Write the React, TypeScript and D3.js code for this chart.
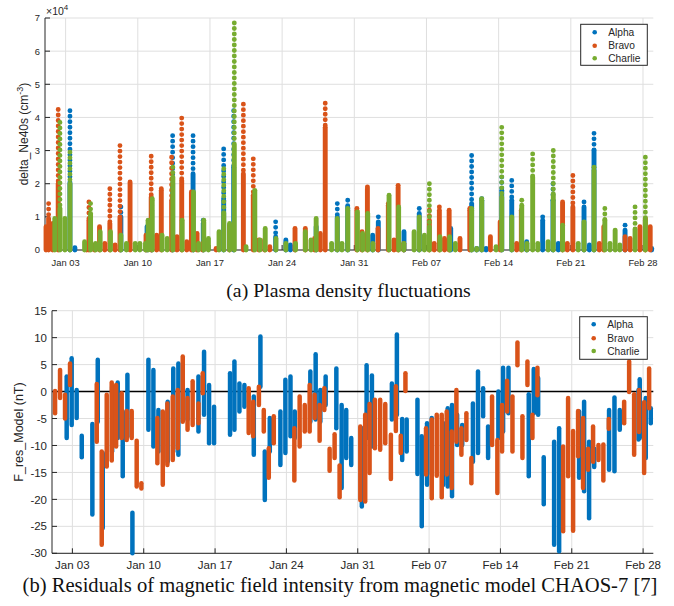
import React from "react";
import * as d3 from "d3";

// time axis: days counted from Jan 01 (UTC)
const t0 = Date.UTC(2021, 0, 1);
const t1 = Date.UTC(2021, 2, 1);
const toDate = (d: number) => new Date(t0 + d * 864e5);

const seriesNames = ["Alpha", "Bravo", "Charlie"];
const seriesColors = ["#0072BD", "#D95319", "#77AC30"];

// (a) delta_Ne40s columns: [day, top of dense part, highest sparse point] (cm^-3)
const alphaNe = [
  [2.42, 20000, 42000], [2.9, 700, 700], [7.36, 10000, 13000], [9.9, 7000, 7000],
  [10.35, 12000, 15000], [12.38, 20000, 34500], [14.36, 23000, 34500], [15.35, 8000, 9000],
  [17.33, 15000, 30500], [18.3, 25000, 42000], [22.37, 4000, 8500], [23.36, 3000, 3000],
  [23.8, 1500, 1500], [26.3, 7000, 7000], [28.35, 10000, 14000], [29.36, 13000, 15000],
  [31.78, 4500, 4500], [32.33, 8500, 10000], [34.82, 5500, 5500], [36.3, 11000, 12500],
  [39.35, 6500, 6500], [41.38, 14000, 28500], [41.87, 500, 500], [42.36, 15000, 15500],
  [42.78, 500, 500], [44.3, 18000, 22000], [45.27, 15000, 21000], [46.72, 2500, 2500],
  [48.27, 9000, 10000], [49.27, 15000, 20000], [49.79, 2000, 2000], [52.28, 13000, 14500],
  [52.8, 1500, 1500], [53.25, 30000, 35200], [56.26, 6000, 7500], [58.84, 500, 500],
];
const bravoNe = [
  [0.1, 7000, 7000], [0.35, 9500, 14000], [0.75, 8000, 8000], [1.28, 20000, 42400],
  [4.04, 1000, 1000], [4.26, 9000, 14500], [4.8, 1500, 1500], [5.29, 7000, 7000],
  [5.8, 2000, 2000], [6.29, 8000, 18500], [6.8, 1500, 1500], [7.27, 10000, 31500],
  [8.25, 20500, 20500], [9.8, 4500, 4500], [10.3, 16000, 28300], [10.83, 4500, 4500],
  [11.28, 18000, 18500], [12.28, 15000, 28000], [12.8, 4000, 4000], [13.26, 21000, 39800],
  [13.75, 2500, 2500], [14.2, 17500, 17500], [14.75, 5000, 5000], [15.3, 2000, 2000],
  [16.6, 500, 500], [17.9, 7500, 7500], [19.24, 23000, 44000], [20.2, 16500, 27500],
  [20.75, 3000, 3000], [21.3, 3000, 3000], [21.8, 1000, 1000], [24.25, 6500, 6500],
  [25.25, 6500, 6500], [26.15, 3500, 3500], [26.7, 5000, 5000], [27.18, 37000, 44300],
  [30.25, 12000, 12500], [30.75, 5500, 5500], [31.27, 18500, 19000], [32.3, 6500, 6500],
  [33.3, 13500, 14000], [33.85, 3000, 3000], [34.25, 19000, 19500], [34.8, 2000, 2000],
  [37.28, 9000, 12000], [37.75, 2000, 2000], [38.25, 12000, 13000], [38.75, 3500, 3500],
  [39.2, 12000, 12000], [40.25, 3500, 3500], [41.2, 12000, 12500], [43.2, 4000, 4000],
  [44.15, 8500, 8500], [45.75, 2000, 2000], [46.2, 12000, 12000], [50.2, 14500, 14500],
  [50.66, 2000, 2000], [51.2, 13000, 22500], [53.76, 2000, 2000], [54.2, 7000, 7000],
  [56.26, 4000, 4000], [56.75, 3500, 3500], [57.7, 7000, 7000], [58.23, 9500, 9500],
  [58.7, 7000, 7000],
];
const charlieNe = [
  [0.95, 9500, 9500], [1.45, 12500, 38500], [1.93, 9500, 9500], [2.42, 20000, 29500],
  [3.84, 2500, 2500], [4.42, 11000, 14000], [4.9, 2000, 2000], [5.35, 5500, 5500],
  [6.35, 5500, 5500], [7.36, 4500, 4500], [7.9, 2000, 2000], [8.75, 2000, 2000],
  [9.2, 2000, 2000], [9.75, 2000, 2000], [10.0, 9000, 9000], [10.4, 15000, 15500],
  [11.35, 4500, 4500], [11.85, 3500, 3500], [12.4, 22000, 25000], [13.3, 9000, 9000],
  [14.4, 17500, 17500], [14.9, 2000, 2000], [15.4, 8500, 9000], [15.85, 3500, 3500],
  [16.88, 5500, 5500], [17.34, 11000, 24500], [17.9, 8000, 8000], [18.36, 32000, 68500],
  [19.5, 1000, 1000], [20.35, 18000, 18000], [20.85, 3000, 3000], [21.36, 6500, 6500],
  [22.4, 3500, 3500], [23.36, 2000, 2000], [24.3, 2000, 2000], [25.25, 5500, 5500],
  [25.8, 3000, 3000], [26.3, 9500, 9500], [27.8, 2000, 2000], [28.35, 9500, 9500],
  [28.8, 2000, 2000], [29.36, 12000, 12500], [30.3, 11500, 11500], [30.8, 5000, 5000],
  [31.3, 11000, 11000], [31.8, 2000, 2000], [33.37, 16500, 16500], [34.3, 13000, 13000],
  [34.8, 2000, 2000], [35.8, 5500, 5500], [36.3, 10000, 10000], [36.8, 4500, 4500],
  [37.28, 7000, 20000], [38.3, 4000, 4000], [39.25, 4000, 4000], [39.8, 2000, 2000],
  [41.38, 12000, 12500], [41.87, 500, 500], [42.36, 15000, 15500], [43.75, 1000, 1000],
  [44.3, 16000, 37000], [45.27, 10000, 10000], [46.24, 13500, 15000], [46.75, 2000, 2000],
  [47.3, 22000, 29000], [47.8, 2000, 2000], [48.8, 2500, 2500], [49.3, 17000, 30000],
  [50.2, 7500, 7500], [51.72, 2000, 2000], [52.28, 8500, 8500], [53.25, 24000, 25000],
  [54.3, 9000, 12500], [54.8, 2000, 2000], [55.3, 6000, 6000], [55.75, 1500, 1500],
  [57.23, 6000, 13000], [58.23, 9000, 28000],
];

// (b) F_res_Model per pass: [day, max, min] (nT)
const alphaRes = [
  [1.44, 2.8, -8.6], [1.93, 6.2, -6.2], [2.42, 0.3, -4.9], [2.92, -8.2, -12.2],
  [3.96, -6, -22.8], [4.49, 5.9, -5.6], [4.98, -11.4, -25.3], [5.9, 0.9, -11.1],
  [6.45, 1.7, -8.6], [6.94, -3.7, -15.7], [7.4, 3.1, -8.3], [7.89, -22.5, -30],
  [9.46, 5.9, -7.1], [9.95, 4, -10.2], [10.44, -3.4, -11.1], [11.35, -1.9, -13],
  [11.9, 4.3, -11.1], [12.4, 5.2, -11.7], [13.3, 0.3, -5.2], [14.37, 2.8, -7.4],
  [14.92, 7.4, -4.3], [15.41, 1.2, -9.6], [15.9, -2.8, -9.6], [17.47, 3.4, -8],
  [17.9, 5.6, -7.1], [18.39, 1.5, -3.7], [18.88, 1.2, -2.8], [19.8, -0.9, -11.7],
  [20.45, 10.2, 0.9], [20.88, -11.1, -20.1], [21.37, -4.9, -11.1], [22.41, -3.7, -13.6],
  [22.9, 2.2, -11.4], [23.4, 2.8, -8.3], [23.82, -3.7, -8.6], [25.35, 3.7, -5.6],
  [25.87, 6.9, -5.2], [26.33, 0.3, -5.6], [26.85, 2.8, -2.5], [27.9, 4.3, -6.8],
  [28.42, -2.5, -17.9], [28.87, -3.4, -12.3], [29.36, -8.6, -13.6], [30.4, -6.8, -21.3],
  [30.87, 4.9, -8.6], [31.39, 3, -10.2], [33.35, 1.5, -5.2], [33.84, 10.6, -4.3],
  [34.36, -5.1, -12.7], [34.8, -5.2, -11.1], [35.86, -1.5, -15.3], [36.28, -8.3, -25],
  [36.8, -5.9, -17.3], [37.26, -4.9, -15.3], [38.4, -5.9, -17.3], [38.83, -3.1, -17.6],
  [39.25, -2.5, -19.4], [39.75, -4.3, -9.9], [40.25, -6.2, -9.9], [41.3, -2.2, -13],
  [41.8, 3.7, -11.4], [42.3, 0.6, -4.6], [42.79, -6.5, -12.3], [43.8, 0, -8.6],
  [44.26, 4.4, -7.4], [44.79, 4.4, -4], [46.78, -0.5, -15.7], [47.27, 4.2, -4],
  [47.7, 2.5, -4.3], [48.25, -12.2, -20.9], [49.27, -9.3, -28.4], [49.76, -6.8, -29.6],
  [51.72, -3.7, -16], [52.21, -1.9, -18.5], [52.7, -9.3, -23.5], [53.2, -10.6, -14],
  [54.66, -3.4, -14.5], [55.19, -1.1, -14.8], [55.71, -3.4, -7.1], [57.55, 0.3, -8.9],
  [57.67, 2.3, -8.6], [58.26, -1.2, -12.3], [58.75, -3.1, -5.9],
];
const bravoRes = [
  [0.3, 0.1, -4], [0.79, 4, -1.2], [1.28, -0.6, -5], [1.77, 5.2, 1.2],
  [4.39, 1.4, -9.3], [4.88, -11.1, -28.4], [5.37, -0.6, -13.9], [5.86, 1.7, -12.8],
  [6.29, 1.2, -10.2], [6.84, -0.3, -8.6], [7.33, -3.6, -9], [7.82, -3.6, -8.6],
  [8.31, -9.1, -17.6], [8.77, -17, -18], [10.34, -4.9, -13.3], [10.87, -3.7, -17.3],
  [11.32, -2.2, -13.6], [11.85, -0.9, -12.7], [12.34, 0.3, -10.5], [12.83, 6.5, -5.6],
  [13.3, -1.2, -7.1], [13.8, 1.9, -6.2], [14.37, -2.2, -5.9], [14.79, 3.4, -0.3],
  [19.3, 0.6, -7.7], [19.74, -1.9, -8.3], [20.3, 0.9, -2.5], [20.78, -3.4, -7.4],
  [21.27, -10.5, -16], [21.76, -4.6, -9.6], [23.78, -6.8, -16.5], [24.3, -0.9, -10.2],
  [24.8, -2.5, -7.4], [25.28, 1.2, -7.4], [25.77, -0.6, -4.9], [26.26, -2.5, -9.1],
  [26.72, 0.6, -3.4], [27.24, -10.6, -14.7], [27.73, -7.9, -12.3], [28.22, -13.7, -19.6],
  [30.25, -6.5, -20.1], [30.73, -4.3, -20.4], [31.16, -2.3, -15.1], [31.68, -1.5, -10.5],
  [32.2, -1.5, -10.8], [32.7, -2.3, -9.6], [33.25, -8, -16.2], [33.74, 1, -7.3],
  [34.22, -8.2, -11.4], [34.68, 3.4, 0.1], [36.7, -6.8, -15.4], [37.26, -5.2, -19.8],
  [37.75, -4.3, -15.6], [38.24, -4.3, -19.6], [38.73, -3.7, -15.4], [39.22, -7.4, -17.9],
  [39.68, 0.3, -9.3], [40.17, -6.8, -11.7], [40.66, -4, -9], [41.15, -12.3, -17],
  [43.18, -0.9, -9.9], [43.7, -9, -18.8], [44.16, -2.5, -11.1], [44.65, 2, -3.7],
  [45.18, -0.9, -11.1], [45.67, 9.1, 4.9], [46.16, -4.6, -12.3], [46.65, 5.6, 1.2],
  [47.14, -4.3, -8.6], [47.63, 4.4, -0.7], [50.15, -10.2, -25.9], [50.64, -1.2, -15.7],
  [51.13, -7.3, -25.8], [51.62, -3.6, -12], [52.11, -4.9, -17.9], [52.6, -10.6, -14.5],
  [53.09, -6.5, -13], [53.62, -9.9, -12.7], [54.1, -9.8, -16.5], [54.63, -5.1, -6.9],
  [56.14, -1.9, -5.9], [56.63, 5.6, -0.1], [57.12, -0.5, -11.7], [57.6, 0.3, -7.5],
  [58.1, -2, -15.1], [58.59, 4.3, -3.1],
];
const charlieRes: number[][] = [];

const neTicks = [0, 10000, 20000, 30000, 40000, 50000, 60000, 70000];
const resTicks = [-30, -25, -20, -15, -10, -5, 0, 5, 10, 15];

const sans = "'Liberation Sans', Arial, Helvetica, sans-serif";
const serif = "'Liberation Serif', 'Times New Roman', serif";
const axisColor = "#262626";
const gridColor = "#dfdfdf";
const fmt = d3.utcFormat("%b %d");

const Legend = ({ x, y, w, h, rowY }) => (
  <g>
    <rect x={x} y={y} width={w} height={h} fill="white" stroke={axisColor} strokeWidth={1} />
    {seriesNames.map((n, i) => (
      <g key={n}>
        <circle cx={x + 14} cy={y + rowY[i]} r={2.3} fill={seriesColors[i]} />
        <text x={x + 27.5} y={y + rowY[i] + 3.6} fontSize={10.2} fontFamily={sans} fill={axisColor}>
          {n}
        </text>
      </g>
    ))}
  </g>
);

const Frame = ({ xScale, yScale, yTicks, yFmt, fontSize, labelY }) => {
  const [x0, x1] = xScale.range();
  const [y1, y0] = yScale.range();
  const weeks = d3.utcWeek.range(new Date(t0), new Date(t1 + 1));
  return (
    <g>
      {yTicks.map((t) => (
        <line key={"gy" + t} x1={x0} x2={x1} y1={yScale(t)} y2={yScale(t)} stroke={gridColor} />
      ))}
      {weeks.map((d) => (
        <line key={"gx" + d.getTime()} x1={xScale(d)} x2={xScale(d)} y1={y0} y2={y1} stroke={gridColor} />
      ))}
      {yTicks.map((t) => (
        <g key={"ty" + t}>
          <line x1={x0} x2={x0 + 5} y1={yScale(t)} y2={yScale(t)} stroke={axisColor} />
          <text x={x0 - 5} y={yScale(t) + fontSize * 0.36} textAnchor="end" fontSize={fontSize} fontFamily={sans} fill={axisColor}>
            {yFmt(t)}
          </text>
        </g>
      ))}
      {weeks.map((d) => (
        <g key={"tx" + d.getTime()}>
          <line x1={xScale(d)} x2={xScale(d)} y1={y1} y2={y1 - 5} stroke={axisColor} />
          <text x={xScale(d)} y={labelY} textAnchor="middle" fontSize={fontSize} fontFamily={sans} fill={axisColor}>
            {fmt(d)}
          </text>
        </g>
      ))}
    </g>
  );
};

const Axes = ({ xScale, yScale }) => {
  const [x0, x1] = xScale.range();
  const [y1, y0] = yScale.range();
  return (
    <g stroke={axisColor} strokeWidth={1}>
      <line x1={x0} x2={x0} y1={y0} y2={y1} />
      <line x1={x0} x2={x1} y1={y1} y2={y1} />
    </g>
  );
};

const DensityPanel = () => {
  const xScale = d3.scaleUtc().domain([new Date(t0), new Date(t1)]).range([45, 653.3]);
  const yScale = d3.scaleLinear().domain([0, 70000]).range([250, 18]);
  const series = [alphaNe, bravoNe, charlieNe];
  return (
    <g>
      <Frame xScale={xScale} yScale={yScale} yTicks={neTicks} yFmt={(v) => String(v / 10000)} fontSize={9.4} labelY={265.5} />
      <Axes xScale={xScale} yScale={yScale} />
      {series.map((s, i) => (
        <g key={i} stroke={seriesColors[i]} strokeWidth={4.9} strokeLinecap="round">
          {s.map(([d, dense, top], j) => {
            const x = xScale(toDate(d));
            return (
              <g key={j}>
                <line x1={x} x2={x} y1={yScale(0)} y2={yScale(dense)} />
                {top > dense && (
                  <line x1={x} x2={x} y1={yScale(top)} y2={yScale(dense)} strokeDasharray="0 5.5" />
                )}
              </g>
            );
          })}
        </g>
      ))}
      <text x={46} y={15} fontSize={10.5} fontFamily={sans} fill={axisColor}>
        ×10<tspan dy={-5} fontSize={8}>4</tspan>
      </text>
      <text transform="translate(28,134) rotate(-90)" textAnchor="middle" fontSize={12} fontFamily={sans} fill={axisColor}>
        delta_Ne40s (cm<tspan dy={-5} fontSize={9}>-3</tspan><tspan dy={5}>)</tspan>
      </text>
      <Legend x={580.7} y={24.3} w={66.6} h={41} rowY={[8, 21.4, 34]} />
      <text x={348.5} y={297} textAnchor="middle" fontSize={19.8} fontFamily={serif} fill="#111">
        (a) Plasma density fluctuations
      </text>
    </g>
  );
};

const ResidualPanel = () => {
  const xScale = d3.scaleUtc().domain([new Date(t0), new Date(t1)]).range([52, 653.3]);
  const yScale = d3.scaleLinear().domain([-30, 15]).range([553.3, 310.7]);
  const series = [alphaRes, bravoRes, charlieRes];
  return (
    <g>
      <Frame xScale={xScale} yScale={yScale} yTicks={resTicks} yFmt={(v) => String(v)} fontSize={11.5} labelY={569} />
      <line x1={52} x2={653.3} y1={yScale(0)} y2={yScale(0)} stroke="#000" strokeWidth={1.6} />
      <Axes xScale={xScale} yScale={yScale} />
      {series.map((s, i) => (
        <g key={i} stroke={seriesColors[i]} strokeWidth={4.5} strokeLinecap="round">
          {s.map(([d, hi, lo], j) => {
            const x = xScale(toDate(d));
            return <line key={j} x1={x} x2={x} y1={yScale(hi)} y2={yScale(lo)} />;
          })}
        </g>
      ))}
      <text transform="translate(23,432) rotate(-90)" textAnchor="middle" fontSize={12.5} fontFamily={sans} fill={axisColor}>
        F_res_Model (nT)
      </text>
      <Legend x={579.7} y={316.7} w={67.6} h={42.6} rowY={[7.6, 21.6, 34.3]} />
      <text x={340} y={592} textAnchor="middle" fontSize={20.6} fontFamily={serif} fill="#111">
        (b) Residuals of magnetic field intensity from magnetic model CHAOS-7 [7]
      </text>
    </g>
  );
};

export default function App() {
  return (
    <svg width={674} height={606} style={{ position: "absolute", left: 0, top: 0, background: "white" }}>
      <rect width={674} height={606} fill="white" />
      <DensityPanel />
      <ResidualPanel />
    </svg>
  );
}
